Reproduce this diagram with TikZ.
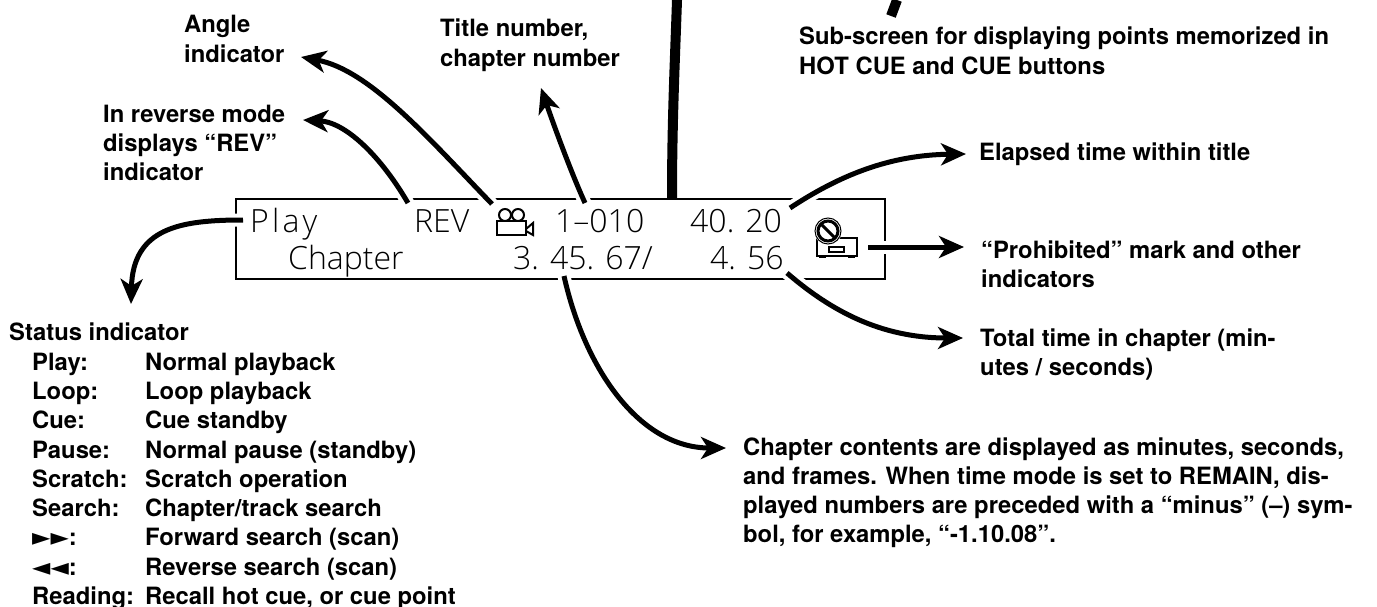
\documentclass[tikz,border=0pt]{standalone}
\usepackage{fontspec}
\setmainfont{TeX Gyre Heros}
\newfontfamily\disp[UprightFont={* Light}]{Open Sans}
\newfontfamily\sym{DejaVu Sans}
\usetikzlibrary{arrows.meta}
\tikzset{
  lbl/.style={anchor=base west,inner sep=0pt,font=\fontsize{23.8}{29}\selectfont\bfseries},
  dsp/.style={anchor=base west,inner sep=0pt,font=\fontsize{32}{36}\selectfont\disp},
  ptr/.style={line width=5pt,-{Stealth[length=25pt,width=22pt,inset=7pt]}},
  halo/.style={line width=13pt,white},
  thick bar/.style={line width=10pt},
  frame/.style={line width=2pt},
  icon/.style={line width=2pt}
}
\begin{document}
\begin{tikzpicture}[x=1pt,y=-1pt]
\useasboundingbox (0,0) rectangle (1377,607);
\coordinate (fTL) at (236,199); \coordinate (fBR) at (885,279);
\draw[frame] (fTL) rectangle (fBR);
% connector ends
\coordinate (pS) at (243,220); \coordinate (pT) at (131,304);
\coordinate (rS) at (408,203); \coordinate (rT) at (303,120);
\coordinate (aS) at (492,204); \coordinate (aT) at (301,57);
\coordinate (tS) at (585,203); \coordinate (tT) at (541,88);
\coordinate (eS) at (790,208); \coordinate (eT) at (966,154);
\coordinate (xS) at (868,247); \coordinate (xT) at (964,247);
\coordinate (oS) at (787,273); \coordinate (oT) at (963,338);
\coordinate (cS) at (564,276); \coordinate (cT) at (726,448);
\coordinate (bA) at (677,0); \coordinate (bB) at (672,198);
\coordinate (sA) at (897,0); \coordinate (sB) at (891,16);
% halos
\draw[halo] (pS) .. controls (180,220) and (133,228) .. (pT);
\draw[halo] (rS) .. controls (380,155) and (345,122) .. (rT);
\draw[halo] (aS) .. controls (430,140) and (370,70) .. (aT);
\draw[halo] (tS) .. controls (570,170) and (552,120) .. (tT);
\draw[halo] (eS) .. controls (840,175) and (890,155) .. (eT);
\draw[halo] (xS) -- (xT);
\draw[halo] (oS) .. controls (830,310) and (880,338) .. (oT);
\draw[halo] (cS) .. controls (585,370) and (640,448) .. (cT);
% arrows
\draw[ptr] (pS) .. controls (180,220) and (133,228) .. (pT);
\draw[ptr] (rS) .. controls (380,155) and (345,122) .. (rT);
\draw[ptr] (aS) .. controls (430,140) and (370,70) .. (aT);
\draw[ptr] (tS) .. controls (570,170) and (552,120) .. (tT);
\draw[ptr] (eS) .. controls (840,175) and (890,155) .. (eT);
\draw[ptr] (xS) -- (xT);
\draw[ptr] (oS) .. controls (830,310) and (880,338) .. (oT);
\draw[ptr] (cS) .. controls (585,370) and (640,448) .. (cT);
\draw[thick bar] (bA) .. controls (675,60) and (672,120) .. (bB);
\draw[thick bar] (sA) -- (sB);
% display
\node[dsp] (dPlay) at (250,233) {\addfontfeature{LetterSpace=10}Play};
\node[dsp] (dRev) at (414,233) {REV};
\node[dsp] (dNum) at (555,233) {1–010};
\node[dsp] (dTime) at (690,233) {40. 20};
\node[dsp] (dChap) at (288,269) {Chapter};
\node[dsp] (dCont) at (513,269) {3. 45. 67/};
\node[dsp] (dTot) at (710,269) {4. 56};
% camera icon
\draw[icon] (505,215) circle (6);
\draw[icon] (518,215) circle (6);
\draw[icon,fill=white] (497,221) rectangle (526,235);
\draw[icon] (526,229) -- (533,223) -- (533,235) -- (526,231);
% prohibited icon
\draw[icon,fill=white] (817,238) rectangle (857,256);
\draw[line width=1.5pt] (829,247) rectangle (844,252);
\draw[line width=3pt] (819,256) -- (826,256) (848,256) -- (855,256);
\fill[white] (828,231) circle (14);
\draw[line width=1pt] (828,231) circle (13);
\draw[line width=3pt] (828,231) circle (10);
\draw[line width=3pt] (821,224) -- (835,238);
% labels
\node[lbl] (l1) at (184,33) {Angle};
\node[lbl] (l2) at (184,63) {indicator};
\node[lbl] (l3) at (103,123) {In reverse mode};
\node[lbl] (l4) at (103,152) {displays “REV”};
\node[lbl] (l5) at (103,181) {indicator};
\node[lbl] (l6) at (440,37) {Title number,};
\node[lbl] (l7) at (440,67) {chapter number};
\node[lbl] (l8) at (799,45) {Sub-screen for displaying points memorized in};
\node[lbl] (l9) at (799,75) {HOT CUE and CUE buttons};
\node[lbl] (l10) at (979,161) {Elapsed time within title};
\node[lbl] (l11) at (981,258) {“Prohibited” mark and other};
\node[lbl] (l12) at (981,287) {indicators};
\node[lbl] (l13) at (980,346) {Total time in chapter (min-};
\node[lbl] (l14) at (980,375) {utes / seconds)};
\node[lbl] (l15) at (743,455) {Chapter contents are displayed as minutes, seconds,};
\node[lbl] (l16) at (743,484) {and frames. When time mode is set to REMAIN, dis-};
\node[lbl] (l17) at (743,513) {played numbers are preceded with a “minus” (–) sym-};
\node[lbl] (l18) at (743,542) {bol, for example, “-1.10.08”.};
\node[lbl] (s0) at (9,340) {Status indicator};
\node[lbl] (s1) at (32,370) {Play:};
\node[lbl] (s1b) at (145,370) {Normal playback};
\node[lbl] (s2) at (32,399) {Loop:};
\node[lbl] (s2b) at (145,399) {Loop playback};
\node[lbl] (s3) at (32,428) {Cue:};
\node[lbl] (s3b) at (145,428) {Cue standby};
\node[lbl] (s4) at (32,458) {Pause:};
\node[lbl] (s4b) at (145,458) {Normal pause (standby)};
\node[lbl] (s5) at (32,487) {Scratch:};
\node[lbl] (s5b) at (145,487) {Scratch operation};
\node[lbl] (s6) at (32,516) {Search:};
\node[lbl] (s6b) at (145,516) {Chapter/track search};
\node[lbl] (s7) at (32,545) {{\sym ►►}:};
\node[lbl] (s7b) at (145,545) {Forward search (scan)};
\node[lbl] (s8) at (32,575) {{\sym ◄◄}:};
\node[lbl] (s8b) at (145,575) {Reverse search (scan)};
\node[lbl] (s9) at (32,604) {Reading:};
\node[lbl] (s9b) at (145,604) {Recall hot cue, or cue point};
\end{tikzpicture}
\end{document}
